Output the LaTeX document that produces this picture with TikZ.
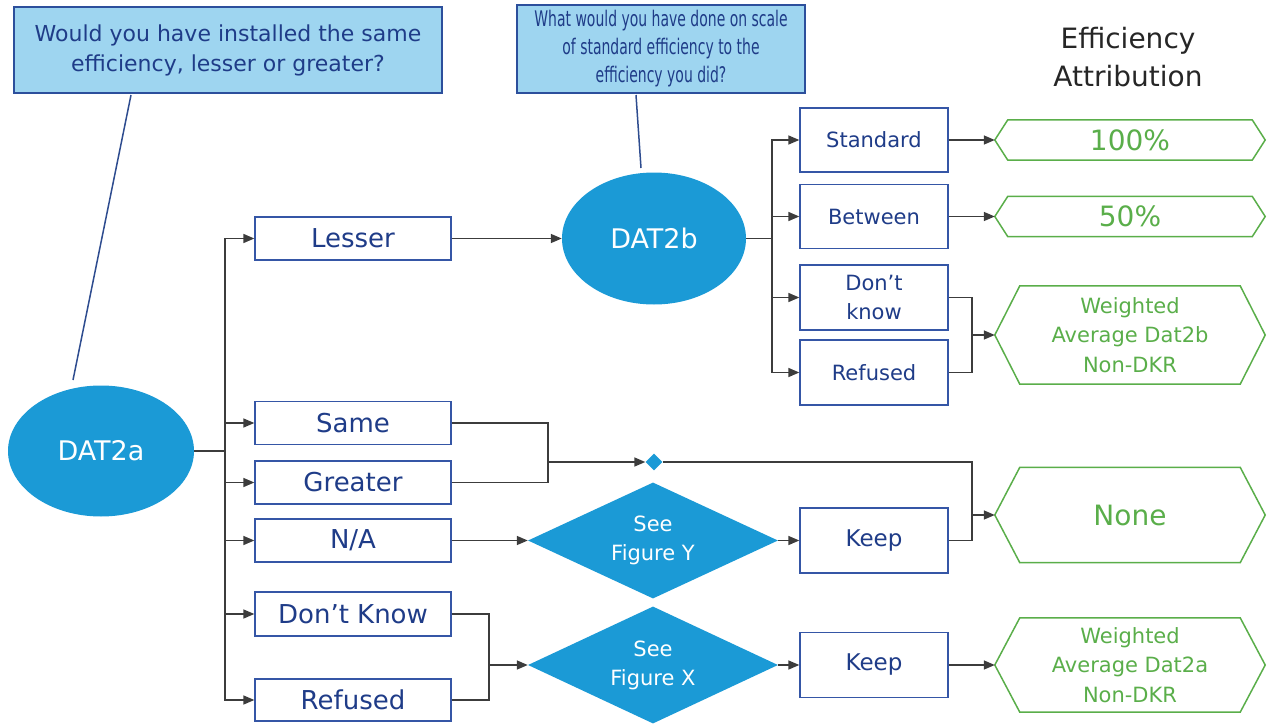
\documentclass[tikz,border=0pt]{standalone}
\usepackage{fontspec}
\setmainfont{DejaVu Sans}
\newfontfamily\condfont[FakeStretch=0.65]{DejaVu Sans}
\usetikzlibrary{shapes.geometric,arrows.meta}
\definecolor{qborder}{HTML}{2C4F9C}
\definecolor{qfill}{HTML}{9ED5F0}
\definecolor{dtext}{HTML}{1F3C88}
\definecolor{bborder}{HTML}{3556A6}
\definecolor{eblue}{HTML}{1B9AD6}
\definecolor{hgreen}{HTML}{5AAE4A}
\definecolor{lgray}{HTML}{3C3C3C}
\definecolor{qlinec}{HTML}{2E4C8F}
\definecolor{titlec}{HTML}{262626}
% name, center, height, indent, font, text
\newcommand\hexnode[6]{%
  \node[hexn, minimum height=#3, font=#5] (#1) at (#2) {#6};
  \draw[hexline] (#1.west) -- ([xshift=#4]#1.north west) -- ([xshift=-#4]#1.north east)
    -- (#1.east) -- ([xshift=-#4]#1.south east) -- ([xshift=#4]#1.south west) -- cycle;}
\begin{document}
\begin{tikzpicture}[x=1pt,y=-1pt,
  qbox/.style={draw=qborder, fill=qfill, line width=1.5pt, text=dtext, align=center, inner sep=0pt},
  optbox/.style={draw=bborder, fill=white, line width=1.3pt, text=dtext, inner sep=0pt,
     minimum width=196pt, minimum height=43pt, font=\fontsize{26}{30}\selectfont},
  rbox/.style={optbox, minimum width=148pt, minimum height=64pt, align=center, font=\fontsize{21}{29}\selectfont},
  ell/.style={ellipse, fill=eblue, text=white, inner sep=0pt, font=\fontsize{27}{30}\selectfont},
  dia/.style={diamond, fill=eblue, text=white, inner sep=0pt, aspect=2.15,
     minimum width=250pt, minimum height=116pt, align=center, font=\fontsize{21}{29}\selectfont},
  hexn/.style={inner sep=0pt, text=hgreen, align=center, minimum width=270pt},
  hexline/.style={draw=hgreen, line width=1.5pt},
  conn/.style={draw=lgray, line width=1.5pt},
  arr/.style={conn, -{Triangle[length=11pt,width=9pt]}},
  qline/.style={draw=qlinec, line width=1.5pt}]
\useasboundingbox (0,0) rectangle (1270,725);

% question boxes
\node[qbox, minimum width=428pt, minimum height=86pt, font=\fontsize{22}{30}\selectfont] (q1) at (228,50)
  {Would you have installed the same\\efficiency, lesser or greater?};
\node[qbox, minimum width=288pt, minimum height=88pt, font=\condfont\fontsize{21.5}{28}\selectfont] (q2) at (661,49)
  {What would you have done on scale\\of standard efficiency to the\\efficiency you did?};
\node[text=titlec, align=center, font=\fontsize{28}{38}\selectfont] (title) at (1128,57) {Efficiency\\Attribution};

% ellipses
\node[ell, minimum width=186pt, minimum height=131pt] (d2a) at (101,451) {DAT2a};
\node[ell, minimum width=184pt, minimum height=132pt] (d2b) at (654,238.5) {DAT2b};

\coordinate (q1a) at (131,95);
\coordinate (q1b) at (73,380);
\coordinate (q2a) at (636,95);
\coordinate (q2b) at (641,168);
\draw[qline] (q1a) -- (q1b);
\draw[qline] (q2a) -- (q2b);

% left option boxes
\node[optbox] (lesser) at (353,238.5) {Lesser};
\node[optbox] (same) at (353,423) {Same};
\node[optbox] (greater) at (353,482.5) {Greater};
\node[optbox] (na) at (353,540.5) {N/A};
\node[optbox, minimum height=44pt] (dk) at (353,614) {Don’t Know};
\node[optbox, minimum height=42pt] (ref) at (353,700) {Refused};

% right option boxes
\node[rbox] (std) at (874,140) {Standard};
\node[rbox] (btw) at (874,216.5) {Between};
\node[rbox, minimum height=65pt] (dkb) at (874,297.5) {Don’t\\know};
\node[rbox, minimum height=65pt] (refb) at (874,372.5) {Refused};
\node[rbox, minimum height=65pt, font=\fontsize{23}{29}\selectfont] (keep1) at (874,540.5) {Keep};
\node[rbox, minimum height=65pt, font=\fontsize{23}{29}\selectfont] (keep2) at (874,665) {Keep};

% diamonds
\node[dia] (dy) at (653,540.5) {See\\Figure Y};
\node[dia, minimum height=117pt] (dx) at (653,665) {See\\Figure X};
\node[diamond, fill=eblue, inner sep=0pt, minimum width=17pt, minimum height=17pt] (sd) at (654,462) {};

% hexagons
\hexnode{h100}{1130,140}{40pt}{13pt}{\fontsize{28}{30}\selectfont}{100\%}
\hexnode{h50}{1130,216.5}{40pt}{13pt}{\fontsize{28}{30}\selectfont}{50\%}
\hexnode{hwb}{1130,335}{98pt}{25pt}{\fontsize{21}{29.5}\selectfont}{Weighted\\Average Dat2b\\Non-DKR}
\hexnode{hnone}{1130,515}{95pt}{25pt}{\fontsize{28}{30}\selectfont}{None}
\hexnode{hwa}{1130,665}{94pt}{25pt}{\fontsize{21}{29.5}\selectfont}{Weighted\\Average Dat2a\\Non-DKR}

% DAT2a trunk
\coordinate (t1) at (225,451);
\draw[conn] (d2a.east) -- (t1);
\draw[arr] (t1) |- (lesser.west);
\draw[arr] (t1) |- (same.west);
\draw[arr] (t1) |- (greater.west);
\draw[arr] (t1) |- (na.west);
\draw[arr] (t1) |- (dk.west);
\draw[arr] (t1) |- (ref.west);

\draw[arr] (lesser.east) -- (d2b.west);

% DAT2b trunk
\coordinate (t2) at (772,238.5);
\draw[conn] (d2b.east) -- (t2);
\draw[arr] (t2) |- (std.west);
\draw[arr] (t2) |- (btw.west);
\draw[arr] (t2) |- (dkb.west);
\draw[arr] (t2) |- (refb.west);

\draw[arr] (std.east) -- (h100.west);
\draw[arr] (btw.east) -- (h50.west);
\coordinate (j1) at (972,335);
\draw[conn] (dkb.east) -| (j1);
\draw[conn] (refb.east) -| (j1);
\draw[arr] (j1) -- (hwb.west);

% same / greater
\coordinate (j2) at (548,462);
\draw[conn] (same.east) -| (j2);
\draw[conn] (greater.east) -| (j2);
\draw[arr] (j2) -- (sd.west);
\coordinate (j3) at (972,515);
\draw[conn] (sd.east) -| (j3);
\draw[conn] (keep1.east) -| (j3);
\draw[arr] (j3) -- (hnone.west);

% N/A
\draw[arr] (na.east) -- (dy.west);
\draw[arr] (dy.east) -- (keep1.west);

% don't know / refused
\coordinate (j4) at (489,665);
\draw[conn] (dk.east) -| (j4);
\draw[conn] (ref.east) -| (j4);
\draw[arr] (j4) -- (dx.west);
\draw[arr] (dx.east) -- (keep2.west);
\draw[arr] (keep2.east) -- (hwa.west);
\end{tikzpicture}
\end{document}
